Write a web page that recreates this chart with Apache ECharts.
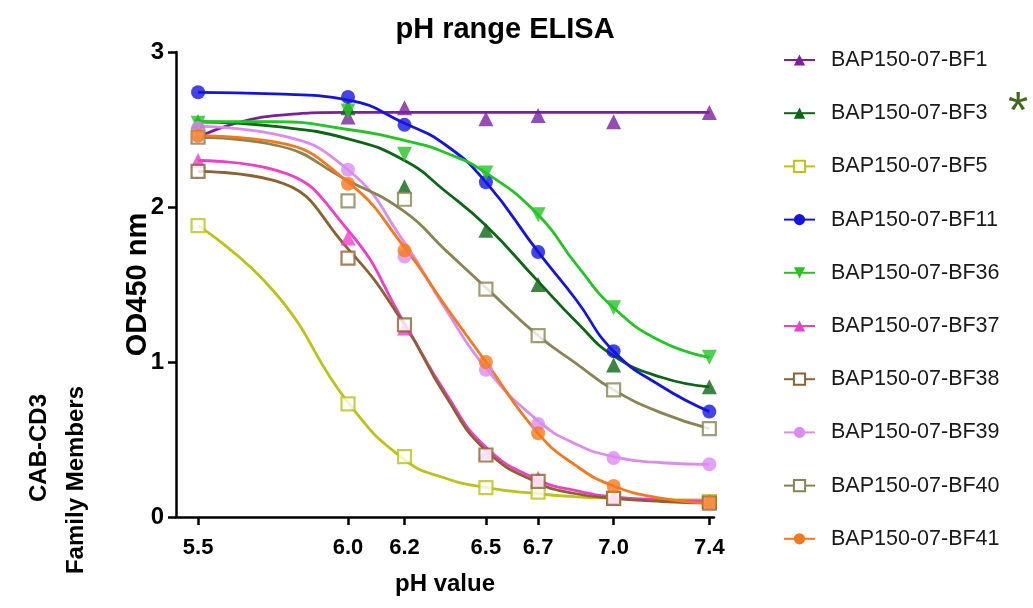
<!DOCTYPE html>
<html>
<head>
<meta charset="utf-8">
<script src="https://cdn.jsdelivr.net/npm/echarts@6/dist/echarts.min.js"></script>
<style>
html,body{margin:0;padding:0;background:#fff;}
#chart{width:1033px;height:608px;}
</style>
</head>
<body>
<div id="chart"></div>
<script>
// ---- data ----
const phTicks = [5.5, 6.0, 6.2, 6.5, 6.7, 7.0, 7.4];      // measured pH values / x tick labels
const yTicks = [0, 1, 2, 3];
const fitPH = [5.5, 5.75, 6.0, 6.2, 6.35, 6.5, 6.7, 6.85, 7.0, 7.2, 7.4]; // where fitted curves were read

const seriesNames = ['BAP150-07-BF1','BAP150-07-BF3','BAP150-07-BF5','BAP150-07-BF11','BAP150-07-BF36',
  'BAP150-07-BF37','BAP150-07-BF38','BAP150-07-BF39','BAP150-07-BF40','BAP150-07-BF41'];

// measured OD450 at phTicks
const bf1Points  = [2.46, 2.58, 2.64, 2.57, 2.59, 2.55, 2.61];
const bf3Points  = [2.55, 2.64, 2.13, 1.85, 1.50, 0.98, 0.84];
const bf5Points  = [1.88, 0.73, 0.39, 0.19, 0.16, 0.12, 0.10];
const bf11Points = [2.74, 2.71, 2.53, 2.16, 1.71, 1.07, 0.68];
const bf36Points = [2.54, 2.62, 2.34, 2.22, 1.95, 1.35, 1.03];
const bf37Points = [2.30, 1.80, 1.22, 0.42, 0.25, 0.13, 0.10];
const bf38Points = [2.23, 1.67, 1.24, 0.40, 0.23, 0.12, 0.09];
const bf39Points = [2.51, 2.24, 1.68, 0.95, 0.60, 0.38, 0.34];
const bf40Points = [2.45, 2.04, 2.05, 1.47, 1.17, 0.82, 0.57];
const bf41Points = [2.46, 2.15, 1.72, 1.00, 0.54, 0.20, 0.09];

// fitted curves read at fitPH
const bf1Fit  = [2.45, 2.59, 2.61, 2.61, 2.61, 2.61, 2.61, 2.61, 2.61, 2.61, 2.61];
const bf3Fit  = [2.55, 2.52, 2.44, 2.30, 2.10, 1.88, 1.52, 1.26, 1.04, 0.90, 0.84];
const bf5Fit  = [1.88, 1.45, 0.74, 0.37, 0.25, 0.19, 0.15, 0.13, 0.12, 0.11, 0.11];
const bf11Fit = [2.74, 2.73, 2.69, 2.54, 2.40, 2.16, 1.71, 1.40, 1.07, 0.84, 0.68];
const bf36Fit = [2.55, 2.55, 2.50, 2.43, 2.35, 2.22, 1.95, 1.63, 1.35, 1.13, 1.03];
const bf37Fit = [2.30, 2.24, 1.85, 1.25, 0.80, 0.45, 0.24, 0.17, 0.13, 0.11, 0.10];
const bf38Fit = [2.23, 2.17, 1.73, 1.24, 0.78, 0.43, 0.22, 0.15, 0.12, 0.10, 0.09];
const bf39Fit = [2.52, 2.47, 2.24, 1.77, 1.34, 0.96, 0.62, 0.47, 0.39, 0.35, 0.34];
const bf40Fit = [2.45, 2.40, 2.17, 1.97, 1.72, 1.48, 1.17, 0.99, 0.82, 0.67, 0.57];
const bf41Fit = [2.46, 2.42, 2.16, 1.74, 1.36, 1.00, 0.54, 0.33, 0.20, 0.12, 0.09];

const allPoints = [bf1Points,bf3Points,bf5Points,bf11Points,bf36Points,bf37Points,bf38Points,bf39Points,bf40Points,bf41Points];
const allFits = [bf1Fit,bf3Fit,bf5Fit,bf11Fit,bf36Fit,bf37Fit,bf38Fit,bf39Fit,bf40Fit,bf41Fit];

// ---- styles ----
const colors = ['#7a1fa0','#0b6616','#bcc21a','#1414e0','#24c424','#f03ec8','#8c6232','#dc8cf0','#8a8452','#f5791c'];
const symbols = ['triangle','triangle','rect','circle','path://M0,0 L10,0 L5,9 Z','triangle','rect','circle','rect','circle'];
const hollow = [false,false,true,false,false,false,true,false,true,false];
const symSizes = [15,15,13,14,15,15,13,14,13,14];
const FONT = 'Liberation Sans, Arial, sans-serif';

const series = [];
seriesNames.forEach((name, i) => {
  const c = colors[i];
  const itemStyle = hollow[i] ? {color:'#ffffff', borderColor:c, borderWidth:2.2} : {color:c};
  series.push({
    name, type:'line', smooth:0.5, showSymbol:false, symbol:symbols[i], symbolSize:symSizes[i],
    data: fitPH.map((p,k)=>[p, allFits[i][k]]),
    lineStyle:{color:c, width:2.8}, itemStyle, z:2, silent:true
  });
  series.push({
    name, type:'scatter', symbol:symbols[i], symbolSize:symSizes[i],
    data: phTicks.map((p,k)=>[p, allPoints[i][k]]),
    itemStyle, z:3
  });
});

const chart = echarts.init(document.getElementById('chart'), null, {renderer:'canvas'});
chart.setOption({
  animation:false,
  backgroundColor:'#ffffff',
  title:{text:'pH range ELISA', left:500, top:10, textAlign:'center',
    textStyle:{fontFamily:FONT, fontWeight:'bold', fontSize:29, color:'#000'}},
  grid:{left:176, top:52, width:538, height:465, containLabel:false},
  xAxis:{
    type:'log', logBase:10, min:5.43, max:7.42,
    name:'pH value', nameLocation:'middle', nameGap:55, nameMoveOverlap:false,
    nameTextStyle:{fontFamily:FONT, fontWeight:'bold', fontSize:24, color:'#000'},
    axisLine:{lineStyle:{color:'#000', width:2.5}},
    axisTick:{show:true, length:8, inside:false, customValues:phTicks, lineStyle:{color:'#000', width:2.5}},
    axisLabel:{customValues:phTicks, margin:20, formatter:v=>Number(v).toFixed(1),
      fontFamily:FONT, fontWeight:'bold', fontSize:22, color:'#000'},
    splitLine:{show:false}, minorTick:{show:false}, minorSplitLine:{show:false}
  },
  yAxis:{
    type:'value', min:yTicks[0], max:yTicks[yTicks.length-1], interval:1,
    name:'OD450 nm', nameLocation:'middle', nameGap:24, nameMoveOverlap:false,
    nameTextStyle:{fontFamily:FONT, fontWeight:'bold', fontSize:29, color:'#000'},
    axisLine:{show:true, lineStyle:{color:'#000', width:2.5}},
    axisTick:{show:true, length:8, lineStyle:{color:'#000', width:2.5}},
    axisLabel:{margin:12, fontFamily:FONT, fontWeight:'bold', fontSize:24, color:'#000'},
    splitLine:{show:false}
  },
  legend:{
    orient:'vertical', left:778, top:44, itemWidth:31, itemHeight:14, itemGap:31.2,
    data:seriesNames,
    textStyle:{fontFamily:FONT, fontSize:21.5, color:'#1a1a1a', padding:[0,0,0,11]}
  },
  graphic:[
    {type:'text', x:39, y:448, rotation:Math.PI/2,
      style:{text:'CAB-CD3', font:'bold 24px "Liberation Sans", Arial, sans-serif', fill:'#000', align:'center', verticalAlign:'middle'}},
    {type:'text', x:76, y:480, rotation:Math.PI/2,
      style:{text:'Family Members', font:'bold 24px "Liberation Sans", Arial, sans-serif', fill:'#000', align:'center', verticalAlign:'middle'}},
    {type:'text', x:1018, y:114,
      style:{text:'*', font:'52px "Liberation Sans", Arial, sans-serif', fill:'#3f6a1c', align:'center', verticalAlign:'middle'}}
  ],
  series
});
</script>
</body>
</html>
